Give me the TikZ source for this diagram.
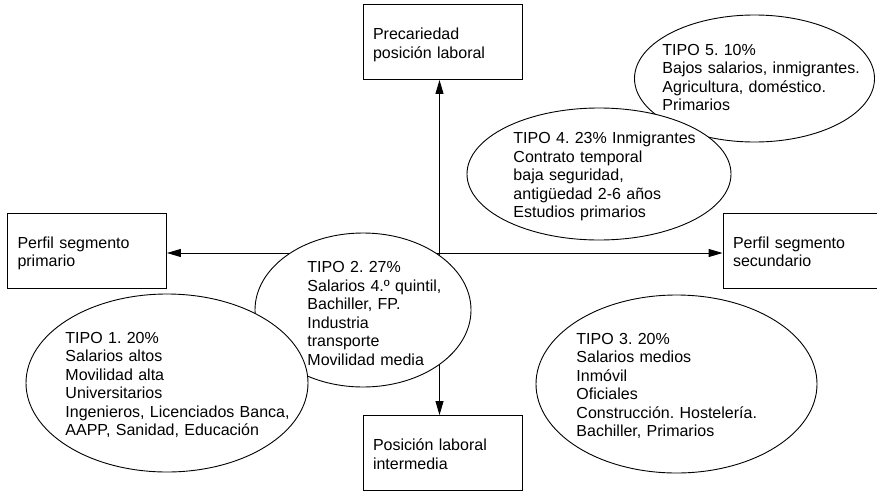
\documentclass[tikz,border=0pt]{standalone}
\usepackage{fontspec}
\setmainfont{Liberation Sans}
\frenchspacing
\usetikzlibrary{arrows.meta, shapes.geometric}

\begin{document}
\begin{tikzpicture}[x=1pt, y=-1pt, >={Triangle[length=14pt, width=8pt]}, line width=0.9pt,
  every node/.style={font=\fontsize{16}{18.5}\selectfont},
  caja/.style={draw, rectangle, text width=139pt, align=left, inner xsep=10pt, inner ysep=0pt,
    minimum height=75pt, text height=17pt, text depth=22pt},
  tipo/.style={draw, ellipse, fill=white, inner sep=0pt},
  texto/.style={anchor=base west, inner sep=0pt, text width=240pt, align=left}]

  \useasboundingbox (0,0) rectangle (877,490);

  % ejes: cajas en los cuatro extremos
  \node[caja] (precariedad) at (442.5,42) {Precariedad\\posición laboral};
  \node[caja] (intermedia) at (442.5,453) {Posición laboral\\intermedia};
  \node[caja] (primario) at (87,250.5) {Perfil segmento\\primario};
  \node[caja] (secundario) at (802.5,250.5) {Perfil segmento\\secundario};

  \coordinate (cruce) at (439.5,253);
  \draw[->] (cruce) -- (cruce |- precariedad.south);
  \draw[->] (cruce) -- (cruce |- intermedia.north);
  \draw[->] (cruce) -- (primario.east |- cruce);
  \draw[->] (cruce) -- (secundario.west |- cruce);

  % tipos (el orden decide que elipse tapa a cual)
  \node[tipo, minimum width=240pt, minimum height=127pt] (tipo5) at (754.5,78.5) {};
  \node[tipo, minimum width=264pt, minimum height=132pt] (tipo4) at (599,174) {};
  \node[tipo, minimum width=216pt, minimum height=154pt] (tipo2) at (363,310) {};
  \node[tipo, minimum width=282pt, minimum height=178pt] (tipo1) at (167,383) {};
  \node[tipo, minimum width=281pt, minimum height=178pt] (tipo3) at (676.5,384) {};

  \node[texto] (texto5) at (662,55) {TIPO 5. 10\%\\Bajos salarios, inmigrantes.\\Agricultura, doméstico.\\Primarios};
  \node[texto] (texto4) at (513,143.5) {TIPO 4. 23\% Inmigrantes\\Contrato temporal\\baja seguridad,\\antigüedad 2-6 años\\Estudios primarios};
  \node[texto] (texto2) at (307,272.5) {TIPO 2. 27\%\\Salarios 4.º quintil,\\Bachiller, FP.\\Industria\\transporte\\Movilidad media};
  \node[texto] (texto1) at (65,343) {TIPO 1. 20\%\\Salarios altos\\Movilidad alta\\Universitarios\\Ingenieros, Licenciados Banca,\\AAPP, Sanidad, Educación};
  \node[texto] (texto3) at (576,344) {TIPO 3. 20\%\\Salarios medios\\Inmóvil\\Oficiales\\Construcción. Hostelería.\\Bachiller, Primarios};

\end{tikzpicture}
\end{document}
